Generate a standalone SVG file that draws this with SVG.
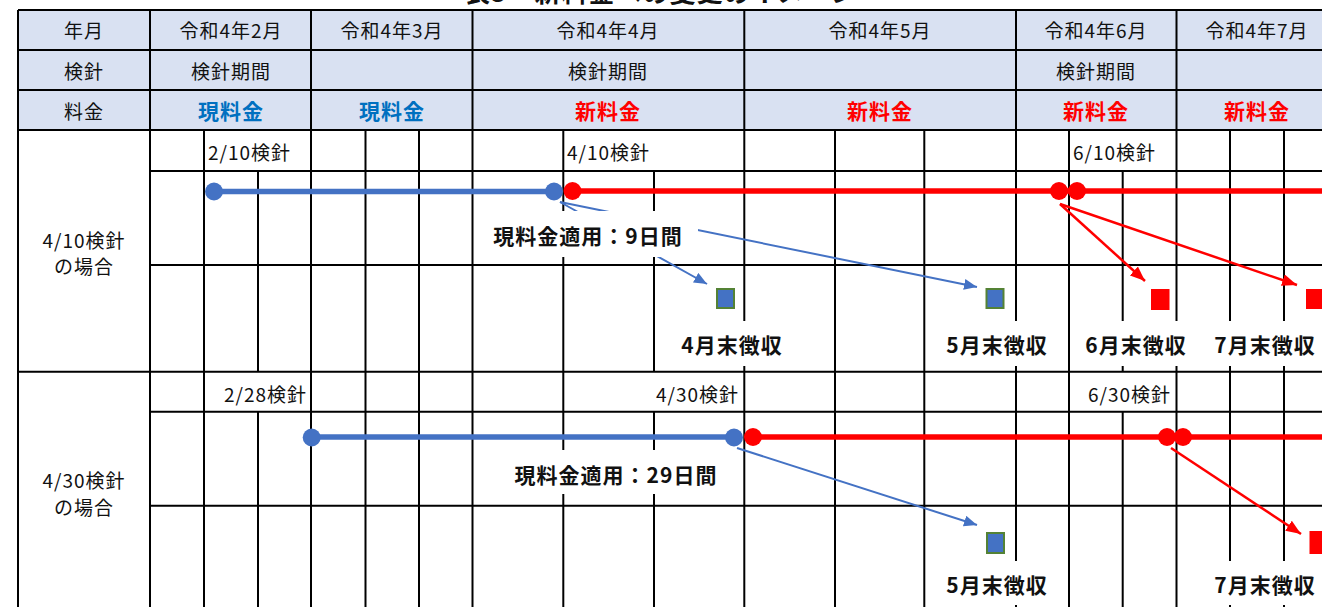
<svg xmlns="http://www.w3.org/2000/svg" width="1322" height="607" viewBox="0 0 1322 607">
<style>
.g{stroke:#000;stroke-width:2;fill:none}
.t{font-family:"Noto Sans CJK JP","Noto Sans",sans-serif;font-size:19px;fill:#111;letter-spacing:1px}
.b{font-family:"Noto Sans CJK JP","Noto Sans",sans-serif;font-size:21px;font-weight:bold;letter-spacing:1px;fill:#111}
.cur{fill:#0070C0}
.new{fill:#FF0000}
.m{text-anchor:middle}
.e{text-anchor:end}
.box{fill:#fff}
.bl{stroke:#4472C4;stroke-width:5.5;fill:none}
.rl{stroke:#FF0000;stroke-width:5.5;fill:none}
.ba{stroke:#4472C4;stroke-width:2;fill:none;marker-end:url(#ab)}
.ra{stroke:#FF0000;stroke-width:2.5;fill:none;marker-end:url(#ar)}
.bd{fill:#4472C4}
.rd{fill:#FF0000}
.bs{fill:#4472C4;stroke:#548235;stroke-width:2}
.rs{fill:#FF0000}
</style>
<defs>
<marker id="ab" markerUnits="userSpaceOnUse" markerWidth="14" markerHeight="12" refX="13" refY="5.5" orient="auto"><path d="M0,0 L13,5.5 L0,11 z" fill="#4472C4"/></marker>
<marker id="ar" markerUnits="userSpaceOnUse" markerWidth="16" markerHeight="13" refX="15" refY="6" orient="auto"><path d="M0,0 L15,6 L0,12 z" fill="#FF0000"/></marker>
</defs>
<rect width="1322" height="607" fill="#fff"/>
<text class="b m" x="661" y="2" style="font-size:26px">表5　新料金への変更のイメージ</text>
<g id="header">
<rect x="18" y="10" width="1304" height="120" fill="#D9E1F2"/>
<text class="t m" x="84" y="38">年月</text>
<text class="t m" x="84" y="79">検針</text>
<text class="t m" x="84" y="119">料金</text>
<text class="t m" x="231" y="38">令和4年2月</text>
<text class="t m" x="392" y="38">令和4年3月</text>
<text class="t m" x="608" y="38">令和4年4月</text>
<text class="t m" x="880" y="38">令和4年5月</text>
<text class="t m" x="1096" y="38">令和4年6月</text>
<text class="t m" x="1257" y="38">令和4年7月</text>
<text class="t m" x="231" y="79">検針期間</text>
<text class="t m" x="608" y="79">検針期間</text>
<text class="t m" x="1096" y="79">検針期間</text>
<text class="b m cur" x="231" y="119">現料金</text>
<text class="b m cur" x="392" y="119">現料金</text>
<text class="b m new" x="608" y="119">新料金</text>
<text class="b m new" x="880" y="119">新料金</text>
<text class="b m new" x="1096" y="119">新料金</text>
<text class="b m new" x="1257" y="119">新料金</text>
</g>
<g id="grid" class="g">
<path d="M18,10H1322M18,50H1322M18,90H1322M18,130H1322M150,171H1322M150,265H1322M18,371.7H1322M150,411.7H1322M150,505.7H1322"/>
<path d="M18,10V607M150,10V607M311,10V607M472.5,10V607M744.3,10V607M1016,10V607M1176.5,10V607"/>
<path d="M204,130V607M365.5,130V607M419,130V607M563.3,130V607M835,130V607M924.3,130V607M1069,130V607M1230,130V607M1284,130V607"/>
<path d="M258,171V371.7M654,171V371.7M1122.7,171V371.7M258,411.7V607M654,411.7V607M1122.7,411.7V607"/>
</g>
<g id="row-labels">
<text class="t m" x="84" y="248">4/10検針</text>
<text class="t m" x="84" y="274">の場合</text>
<text class="t m" x="84" y="488">4/30検針</text>
<text class="t m" x="84" y="515">の場合</text>
<text class="t" x="208" y="159.5">2/10検針</text>
<text class="t" x="567" y="159.5">4/10検針</text>
<text class="t" x="1073" y="159.5">6/10検針</text>
<text class="t e" x="307" y="401.5">2/28検針</text>
<text class="t e" x="739" y="401.5">4/30検針</text>
<text class="t e" x="1171" y="401.5">6/30検針</text>
</g>
<g id="connectors">
<line class="bl" x1="214" y1="191.5" x2="554" y2="191.5"/>
<line class="rl" x1="572.5" y1="191" x2="1322" y2="191"/>
<line class="bl" x1="311.7" y1="437" x2="734" y2="437"/>
<line class="rl" x1="753" y1="437" x2="1322" y2="437"/>
<line class="ba" x1="560" y1="202" x2="707" y2="284"/>
<line class="ba" x1="560" y1="202" x2="977" y2="287"/>
<line class="ra" x1="1060" y1="204" x2="1145" y2="281"/>
<line class="ra" x1="1060" y1="204" x2="1297" y2="285"/>
<line class="ba" x1="737" y1="448" x2="977" y2="525"/>
<line class="ra" x1="1171" y1="448" x2="1301" y2="534"/>
</g>
<g id="points">
<circle class="bd" cx="214" cy="191.5" r="9"/>
<circle class="bd" cx="554" cy="191.5" r="9"/>
<circle class="rd" cx="572.5" cy="191" r="9"/>
<circle class="rd" cx="1059" cy="191" r="9"/>
<circle class="rd" cx="1077" cy="191" r="9"/>
<circle class="bd" cx="311.7" cy="437.5" r="9"/>
<circle class="bd" cx="734" cy="437.5" r="9"/>
<circle class="rd" cx="753" cy="437" r="9"/>
<circle class="rd" cx="1167" cy="437" r="9"/>
<circle class="rd" cx="1183" cy="437" r="9"/>
</g>
<g id="squares">
<rect class="bs" x="717" y="289" width="17" height="19"/>
<rect class="bs" x="986.5" y="289" width="17" height="19"/>
<rect class="rs" x="1151" y="289" width="18.5" height="21"/>
<rect class="rs" x="1306" y="289" width="20" height="20"/>
<rect class="bs" x="987" y="533" width="17" height="20"/>
<rect class="rs" x="1309.5" y="531" width="20" height="23"/>
</g>
<g id="label-apply1">
<rect class="box" x="485" y="211" width="213" height="46"/>
<text class="b m" x="588" y="244">現料金適用：9日間</text>
</g>
<g id="label-apply2">
<rect class="box" x="507" y="450" width="220" height="44"/>
<text class="b m" x="616" y="483">現料金適用：29日間</text>
</g>
<g id="label-apr1">
<rect class="box" x="675" y="321" width="115" height="45"/>
<text class="b m" x="732" y="353">4月末徴収</text>
</g>
<g id="label-may1">
<rect class="box" x="940" y="321" width="115" height="45"/>
<text class="b m" x="997" y="353">5月末徴収</text>
</g>
<g id="label-jun1">
<rect class="box" x="1080" y="321" width="114" height="45"/>
<text class="b m" x="1136" y="353">6月末徴収</text>
</g>
<g id="label-jul1">
<rect class="box" x="1208" y="321" width="114" height="45"/>
<text class="b m" x="1265" y="353">7月末徴収</text>
</g>
<g id="label-may2">
<rect class="box" x="940" y="561" width="115" height="44"/>
<text class="b m" x="997" y="593">5月末徴収</text>
</g>
<g id="label-jul2">
<rect class="box" x="1208" y="561" width="114" height="44"/>
<text class="b m" x="1265" y="593">7月末徴収</text>
</g>
</svg>
